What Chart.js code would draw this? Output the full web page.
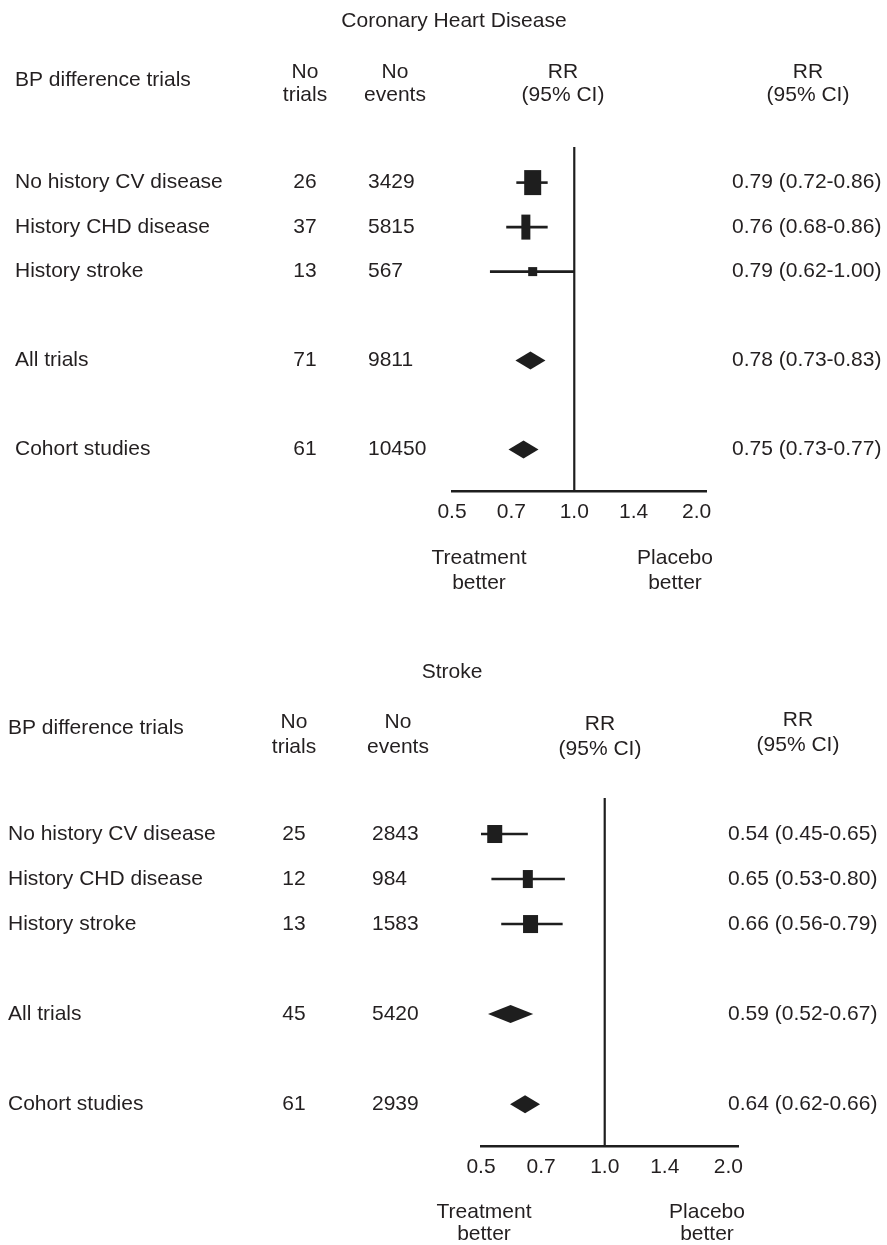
<!DOCTYPE html>
<html>
<head>
<meta charset="utf-8">
<script src="https://cdn.jsdelivr.net/npm/chart.js@4/dist/chart.umd.min.js"></script>
<style>
  html, body { margin: 0; padding: 0; background: #ffffff; }
  body { width: 887px; height: 1245px; position: relative; overflow: hidden; }
  .panel { position: absolute; left: 0; width: 887px; }
  #chd { top: 0; height: 620px; }
  #stroke { top: 620px; height: 625px; }
</style>
</head>
<body>
<div class="panel" id="chd"><canvas id="chdCanvas"></canvas></div>
<div class="panel" id="stroke"><canvas id="strokeCanvas"></canvas></div>
<script>
// Subgroups shown in both panels, and the row each one sits on
const subgroups = ['No history CV disease', 'History CHD disease', 'History stroke', 'All trials', 'Cohort studies'];
const rowPositions = [0, 1, 2, 4, 6];
const markerKind = ['box', 'box', 'box', 'diamond', 'diamond'];

// Coronary heart disease
const chdTrials = [26, 37, 13, 71, 61];
const chdEvents = [3429, 5815, 567, 9811, 10450];
const chdRR = [0.79, 0.76, 0.79, 0.78, 0.75];
const chdLow = [0.72, 0.68, 0.62, 0.73, 0.73];
const chdHigh = [0.86, 0.86, 1.00, 0.83, 0.77];

// Stroke
const strokeTrials = [25, 12, 13, 45, 61];
const strokeEvents = [2843, 984, 1583, 5420, 2939];
const strokeRR = [0.54, 0.65, 0.66, 0.59, 0.64];
const strokeLow = [0.45, 0.53, 0.56, 0.52, 0.62];
const strokeHigh = [0.65, 0.80, 0.79, 0.67, 0.66];

// Relative-risk axis
const axisTicks = [0.5, 0.7, 1.0, 1.4, 2.0];

const INK = '#1e1e1e';
const FONT = '"Liberation Sans", Arial, Helvetica, sans-serif';
const FONT_SIZE = 21;

function ciText(rr, lo, hi) {
  return rr.toFixed(2) + ' (' + lo.toFixed(2) + '-' + hi.toFixed(2) + ')';
}

// Draws whiskers, weighted boxes, pooled diamonds, the line of no effect and the table text
const forestPlugin = {
  id: 'forest',
  afterDatasetsDraw(chart, args, opts) {
    const { ctx, chartArea, scales: { x } } = chart;
    const p = opts.panel;
    ctx.save();
    ctx.strokeStyle = INK;
    ctx.fillStyle = INK;

    // line of no effect (RR = 1)
    const x1 = x.getPixelForValue(1);
    ctx.lineWidth = 2.2;
    ctx.beginPath();
    ctx.moveTo(x1, chartArea.top);
    ctx.lineTo(x1, chartArea.bottom);
    ctx.stroke();

    const meta = chart.getDatasetMeta(0);
    meta.data.forEach((pt, i) => {
      const cx = pt.x, cy = pt.y;
      const xl = Math.max(x.getPixelForValue(p.low[i]), chartArea.left);
      const xh = Math.min(x.getPixelForValue(p.high[i]), chartArea.right);
      if (markerKind[i] === 'box') {
        ctx.lineWidth = 2.6;
        ctx.beginPath();
        ctx.moveTo(xl, cy);
        ctx.lineTo(xh, cy);
        ctx.stroke();
        const [w, h] = p.boxSize[i];
        ctx.fillRect(cx - w / 2, cy - h / 2, w, h);
      } else {
        const left = Math.min(xl, cx - p.minHalf);
        const right = Math.max(xh, cx + p.minHalf);
        const hh = p.diamondHalfHeight;
        ctx.beginPath();
        ctx.moveTo(left, cy);
        ctx.lineTo(cx, cy - hh);
        ctx.lineTo(right, cy);
        ctx.lineTo(cx, cy + hh);
        ctx.closePath();
        ctx.fill();
      }
    });
    ctx.restore();
  },
  afterDraw(chart, args, opts) {
    const { ctx, scales: { y } } = chart;
    const p = opts.panel;
    const L = p.layout;
    ctx.save();
    ctx.fillStyle = '#231f20';
    ctx.font = FONT_SIZE + 'px ' + FONT;
    ctx.textBaseline = 'middle';

    const put = (text, px, py, align) => {
      ctx.textAlign = align;
      ctx.fillText(text, px, py);
    };

    // title and column headings
    put(p.title, L.titleX, L.titleY, 'center');
    put('BP difference trials', L.labelX, L.bpY, 'left');
    put('No', L.trialsX, L.head1Y, 'center');
    put('trials', L.trialsX, L.head2Y, 'center');
    put('No', L.eventsHeadX, L.head1Y, 'center');
    put('events', L.eventsHeadX, L.head2Y, 'center');
    put('RR', L.midRRX, L.midHead1Y, 'center');
    put('(95% CI)', L.midRRX, L.midHead2Y, 'center');
    put('RR', L.rightRRX, L.rightHead1Y, 'center');
    put('(95% CI)', L.rightRRX, L.rightHead2Y, 'center');

    // one table row per subgroup, on the same row as its marker
    subgroups.forEach((name, i) => {
      const ry = y.getPixelForValue(rowPositions[i]);
      put(name, L.labelX, ry, 'left');
      put(String(p.trials[i]), L.trialsX, ry, 'center');
      put(String(p.events[i]), L.eventsX, ry, 'left');
      put(ciText(p.rr[i], p.low[i], p.high[i]), L.ciX, ry, 'left');
    });

    // direction captions under the axis
    put('Treatment', L.treatX, L.cap1Y, 'center');
    put('better', L.treatX, L.cap2Y, 'center');
    put('Placebo', L.placeboX, L.cap1Y, 'center');
    put('better', L.placeboX, L.cap2Y, 'center');
    ctx.restore();
  }
};

function makeForest(canvasId, panel, padding) {
  return new Chart(document.getElementById(canvasId), {
    type: 'scatter',
    data: {
      datasets: [{
        data: panel.rr.map((v, i) => ({ x: v, y: rowPositions[i] })),
        pointRadius: 0,
        pointHoverRadius: 0
      }]
    },
    options: {
      responsive: true,
      maintainAspectRatio: false,
      animation: false,
      events: [],
      layout: { padding },
      plugins: {
        legend: { display: false },
        tooltip: { enabled: false },
        forest: { panel }
      },
      scales: {
        x: {
          type: 'logarithmic',
          position: 'bottom',
          min: 0.5,
          max: 2.11,
          afterBuildTicks: (scale) => { scale.ticks = axisTicks.map(v => ({ value: v })); },
          afterFit: (scale) => { scale.height = 40; },
          grid: { display: false, drawTicks: false },
          border: { display: true, color: INK, width: 2.6 },
          ticks: {
            autoSkip: false,
            maxRotation: 0,
            padding: 9,
            color: '#231f20',
            font: { family: FONT, size: FONT_SIZE },
            callback: (v) => Number(v).toFixed(1)
          }
        },
        y: {
          type: 'linear',
          display: false,
          reverse: true,
          min: -0.8,
          max: 6.93
        }
      }
    },
    plugins: [forestPlugin]
  });
}

makeForest('chdCanvas', {
  title: 'Coronary Heart Disease',
  trials: chdTrials, events: chdEvents, rr: chdRR, low: chdLow, high: chdHigh,
  boxSize: [[17, 25], [9, 25], [9, 9]],
  minHalf: 15, diamondHalfHeight: 9,
  layout: {
    titleX: 454, titleY: 21,
    labelX: 15, bpY: 80, head1Y: 72, head2Y: 95,
    trialsX: 305, eventsHeadX: 395, eventsX: 368,
    midRRX: 563, midHead1Y: 72, midHead2Y: 95,
    rightRRX: 808, rightHead1Y: 72, rightHead2Y: 95,
    ciX: 732,
    treatX: 479, placeboX: 675, cap1Y: 558, cap2Y: 583
  }
}, { left: 452, right: 181, top: 147, bottom: 89 });

makeForest('strokeCanvas', {
  title: 'Stroke',
  trials: strokeTrials, events: strokeEvents, rr: strokeRR, low: strokeLow, high: strokeHigh,
  boxSize: [[15, 18], [10, 18], [15, 18]],
  minHalf: 15, diamondHalfHeight: 9,
  layout: {
    titleX: 452, titleY: 52,
    labelX: 8, bpY: 108, head1Y: 102, head2Y: 127,
    trialsX: 294, eventsHeadX: 398, eventsX: 372,
    midRRX: 600, midHead1Y: 104, midHead2Y: 129,
    rightRRX: 798, rightHead1Y: 100, rightHead2Y: 125,
    ciX: 728,
    treatX: 484, placeboX: 707, cap1Y: 592, cap2Y: 614
  }
}, { left: 481, right: 149, top: 178, bottom: 59 });
</script>
</body>
</html>
